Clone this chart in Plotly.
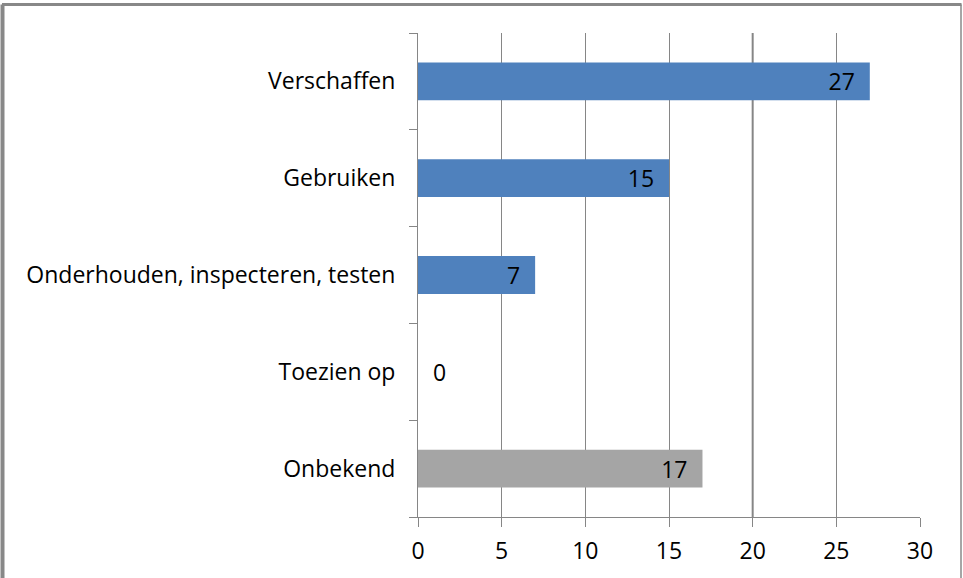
import plotly.graph_objects as go

# Categories and counts, top to bottom
categories = ["Verschaffen", "Gebruiken", "Onderhouden, inspecteren, testen", "Toezien op", "Onbekend"]
values = [27, 15, 7, 0, 17]
bar_colors = ["#4F81BD", "#4F81BD", "#4F81BD", "#4F81BD", "#A5A5A5"]
x_ticks = [0, 5, 10, 15, 20, 25, 30]

FONT = "Open Sans"
FS = 23
GRID = "#868686"
NB = "\u00a0"

labels = []
positions = []
for v in values:
    if v == 0:
        labels.append(NB * 2 + str(v))
        positions.append("outside")
    else:
        labels.append(str(v) + NB * 2)
        positions.append("inside")

fig = go.Figure(
    go.Bar(
        y=categories,
        x=values,
        orientation="h",
        marker=dict(color=bar_colors, line=dict(width=0)),
        text=labels,
        textposition=positions,
        insidetextanchor="end",
        textangle=0,
        textfont=dict(family=FONT, size=FS, color="#000000"),
        cliponaxis=False,
        constraintext="none",
    )
)

W, H = 963, 578
L, R, T, B = 418, 43, 33, 61
pw, ph = W - L - R, H - T - B


def px_x(p):
    return (p - L) / pw


def px_y(p):
    return (H - B - p) / ph


# Heavier gridline at 20, kept beneath the bars
fig.add_shape(type="line", xref="x", yref="paper", x0=20, x1=20, y0=0, y1=1,
              line=dict(color=GRID, width=2), layer="below")

# Outer frame
frame = dict(color="#888888", width=3)
fig.add_shape(type="line", xref="paper", yref="paper", x0=px_x(2), x1=px_x(961.5),
              y0=px_y(4.5), y1=px_y(4.5), line=frame)
fig.add_shape(type="line", xref="paper", yref="paper", x0=px_x(2.5), x1=px_x(2.5),
              y0=px_y(4.5), y1=px_y(590), line=dict(color="#888888", width=4))
fig.add_shape(type="line", xref="paper", yref="paper", x0=px_x(961), x1=px_x(961),
              y0=px_y(4.5), y1=px_y(590), line=dict(color="#888888", width=1.5))

fig.update_layout(
    width=W,
    height=H,
    margin=dict(l=L, r=R, t=T, b=B, pad=0),
    paper_bgcolor="white",
    plot_bgcolor="white",
    bargap=0.61,
    showlegend=False,
    font=dict(family=FONT, size=FS, color="#000000"),
    xaxis=dict(
        range=[0, 30],
        tickvals=x_ticks,
        showgrid=True,
        gridcolor=GRID,
        gridwidth=1,
        showline=True,
        linecolor=GRID,
        linewidth=1,
        ticks="outside",
        ticklen=9,
        tickcolor=GRID,
        tickfont=dict(family=FONT, size=FS),
        ticklabelstandoff=4,
        zeroline=False,
        fixedrange=True,
    ),
    yaxis=dict(
        categoryorder="array",
        categoryarray=categories[::-1],
        showgrid=False,
        showline=True,
        linecolor=GRID,
        linewidth=1,
        ticks="outside",
        tickson="boundaries",
        ticklen=8,
        tickcolor=GRID,
        tickfont=dict(family=FONT, size=FS),
        ticklabelstandoff=17,
        zeroline=False,
        fixedrange=True,
    ),
)

fig.write_html("out.html")
